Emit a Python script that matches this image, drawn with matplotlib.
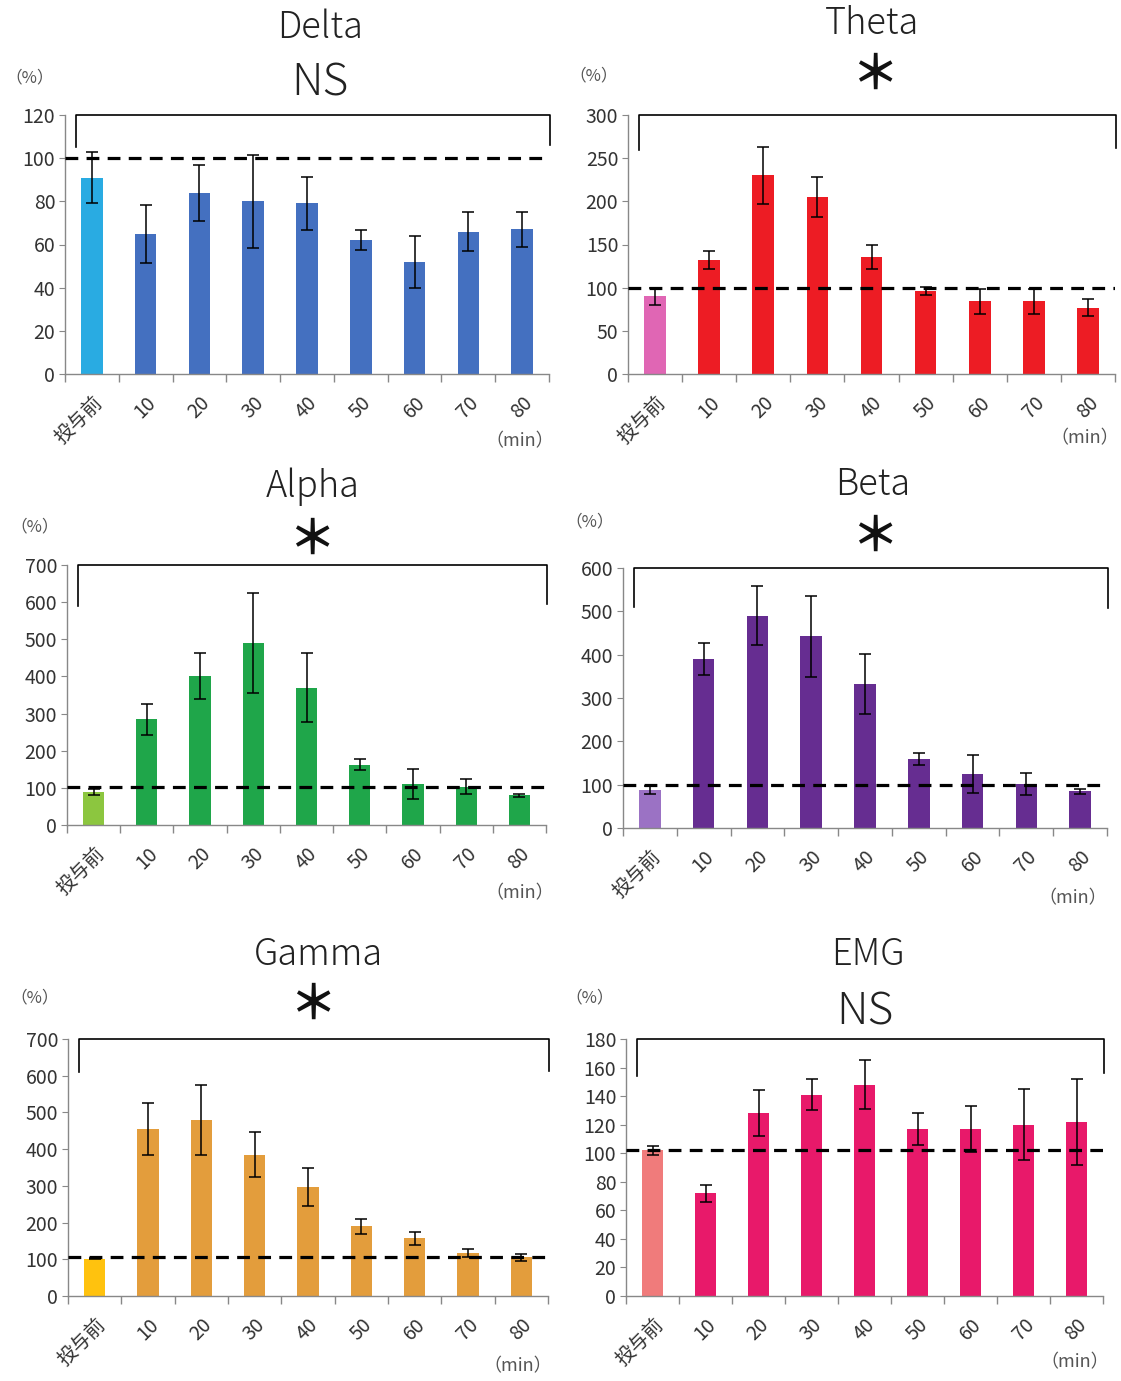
import matplotlib
matplotlib.use("Agg")
import matplotlib.pyplot as plt
import numpy as np

plt.rcParams['font.family'] = ['Noto Sans CJK JP', 'DejaVu Sans']

W, H = 1121, 1381

categories = ['投与前', '10', '20', '30', '40', '50', '60', '70', '80']

# 各バンドの平均値 (%) と誤差
delta_mean = [91, 65, 84, 80, 79, 62, 52, 66, 67]
delta_err = [12, 13.5, 13, 21.5, 12.5, 4.5, 12, 9, 8]

theta_mean = [90, 132, 230, 205, 136, 96, 84, 84, 77]
theta_err = [10, 10, 33, 23, 14, 5, 14, 14, 10]

alpha_mean = [88, 285, 400, 490, 370, 162, 110, 103, 80]
alpha_err = [8, 42, 62, 135, 92, 15, 40, 20, 4]

beta_mean = [88, 390, 490, 442, 332, 160, 125, 102, 85]
beta_err = [9, 38, 68, 93, 70, 14, 44, 25, 6]

gamma_mean = [102, 455, 480, 385, 297, 190, 157, 118, 105]
gamma_err = [2, 72, 96, 62, 51, 21, 17, 11, 9]

emg_mean = [102, 72, 128, 141, 148, 117, 117, 120, 122]
emg_err = [3, 6, 16, 11, 17, 11, 16, 25, 30]

panels = [
    dict(name='Delta', mark='NS', mean=delta_mean, err=delta_err, ymax=120, step=20, base=100,
         c0='#29ABE2', c1='#4470C0', box=(65, 549, 115, 374), legs=(105, 106),
         title=(320, 28), mk=(320, 83), pct=(30, 78), mn=(520, 441)),
    dict(name='Theta', mark='＊', mean=theta_mean, err=theta_err, ymax=300, step=50, base=100,
         c0='#E066B4', c1='#ED1C24', box=(628, 1115, 115, 374), legs=(260, 262),
         title=(872, 24), mk=(875, 75), pct=(594, 76), mn=(1085, 438)),
    dict(name='Alpha', mark='＊', mean=alpha_mean, err=alpha_err, ymax=700, step=100, base=103,
         c0='#8CC63F', c1='#1FA64A', box=(67, 546, 565, 825), legs=(590, 595),
         title=(313, 487), mk=(312, 540), pct=(35, 527), mn=(520, 893)),
    dict(name='Beta', mark='＊', mean=beta_mean, err=beta_err, ymax=600, step=100, base=100,
         c0='#9B72C4', c1='#662D91', box=(623, 1107, 568, 828), legs=(510, 508),
         title=(873, 485), mk=(875, 537), pct=(590, 522), mn=(1073, 898)),
    dict(name='Gamma', mark='＊', mean=gamma_mean, err=gamma_err, ymax=700, step=100, base=105,
         c0='#FFC20E', c1='#E39D3C', box=(68, 548, 1039, 1296), legs=(610, 612),
         title=(318, 955), mk=(313, 1005), pct=(35, 998), mn=(518, 1366)),
    dict(name='EMG', mark='NS', mean=emg_mean, err=emg_err, ymax=180, step=20, base=102,
         c0='#F07B7B', c1='#E8196A', box=(626, 1103, 1039, 1296), legs=(154, 156),
         title=(868, 955), mk=(865, 1012), pct=(590, 998), mn=(1075, 1362)),
]

fig = plt.figure(figsize=(W / 100, H / 100), dpi=100)
fig.patch.set_facecolor('white')


def fx(x):
    return x / W


def fy(y):
    return 1 - y / H


for p in panels:
    x0, x1, yt, yb = p['box']
    ax = fig.add_axes([fx(x0), fy(yb), (x1 - x0) / W, (yb - yt) / H])
    n = len(categories)
    x = np.arange(n)
    colors = [p['c0']] + [p['c1']] * (n - 1)
    ax.bar(x, p['mean'], width=0.4, color=colors, zorder=2)
    ax.errorbar(x, p['mean'], yerr=p['err'], fmt='none', ecolor='black',
                elinewidth=1.1, capsize=4.5, capthick=1.1, zorder=4)
    ax.axhline(p['base'], color='black', lw=2.3, ls=(0, (4, 2.6)), zorder=3)

    ax.set_xlim(-0.5, n - 0.5)
    ax.set_ylim(0, p['ymax'])
    ax.set_yticks(np.arange(0, p['ymax'] + 1, p['step']))
    ax.set_xticks(x)
    ax.set_xticklabels(categories, rotation=45, ha='right', va='top',
                       rotation_mode='anchor')
    ax.set_xticks(np.arange(-0.5, n), minor=True)
    ax.tick_params(axis='x', which='major', length=0, pad=13, labelsize=14,
                   labelcolor='#333333')
    ax.tick_params(axis='x', which='minor', length=6, direction='out',
                   color='#888888', width=1)
    ax.tick_params(axis='y', length=4, direction='out', color='#888888',
                   labelsize=14, labelcolor='#333333', pad=3)
    for s in ['top', 'right']:
        ax.spines[s].set_visible(False)
    for s in ['left', 'bottom']:
        ax.spines[s].set_color('#888888')
        ax.spines[s].set_linewidth(1)
    ax.set_facecolor('none')

    # 有意差のブラケット
    lx, rx = -0.3, n - 0.48
    ax.plot([lx, lx, rx, rx], [p['legs'][0], p['ymax'], p['ymax'], p['legs'][1]],
            color='black', lw=1.2, clip_on=False, zorder=5)

    fig.text(fx(p['title'][0]), fy(p['title'][1]), p['name'], ha='center',
             va='center', fontsize=26, color='#222222', fontweight='light')
    if p['mark'] == 'NS':
        fig.text(fx(p['mk'][0]), fy(p['mk'][1]), 'NS', ha='center', va='center',
                 fontsize=32, color='#222222', fontweight='light')
    else:
        fig.text(fx(p['mk'][0]), fy(p['mk'][1]), '＊', ha='center', va='center',
                 fontsize=34, color='#111111', fontweight='bold')
    fig.text(fx(p['pct'][0]), fy(p['pct'][1]), '（%）', ha='center', va='center',
             fontsize=12, color='#555555')
    fig.text(fx(p['mn'][0]), fy(p['mn'][1]), '（min）', ha='center', va='center',
             fontsize=13, color='#555555')

fig.savefig('out.png', dpi=100, facecolor='white')
